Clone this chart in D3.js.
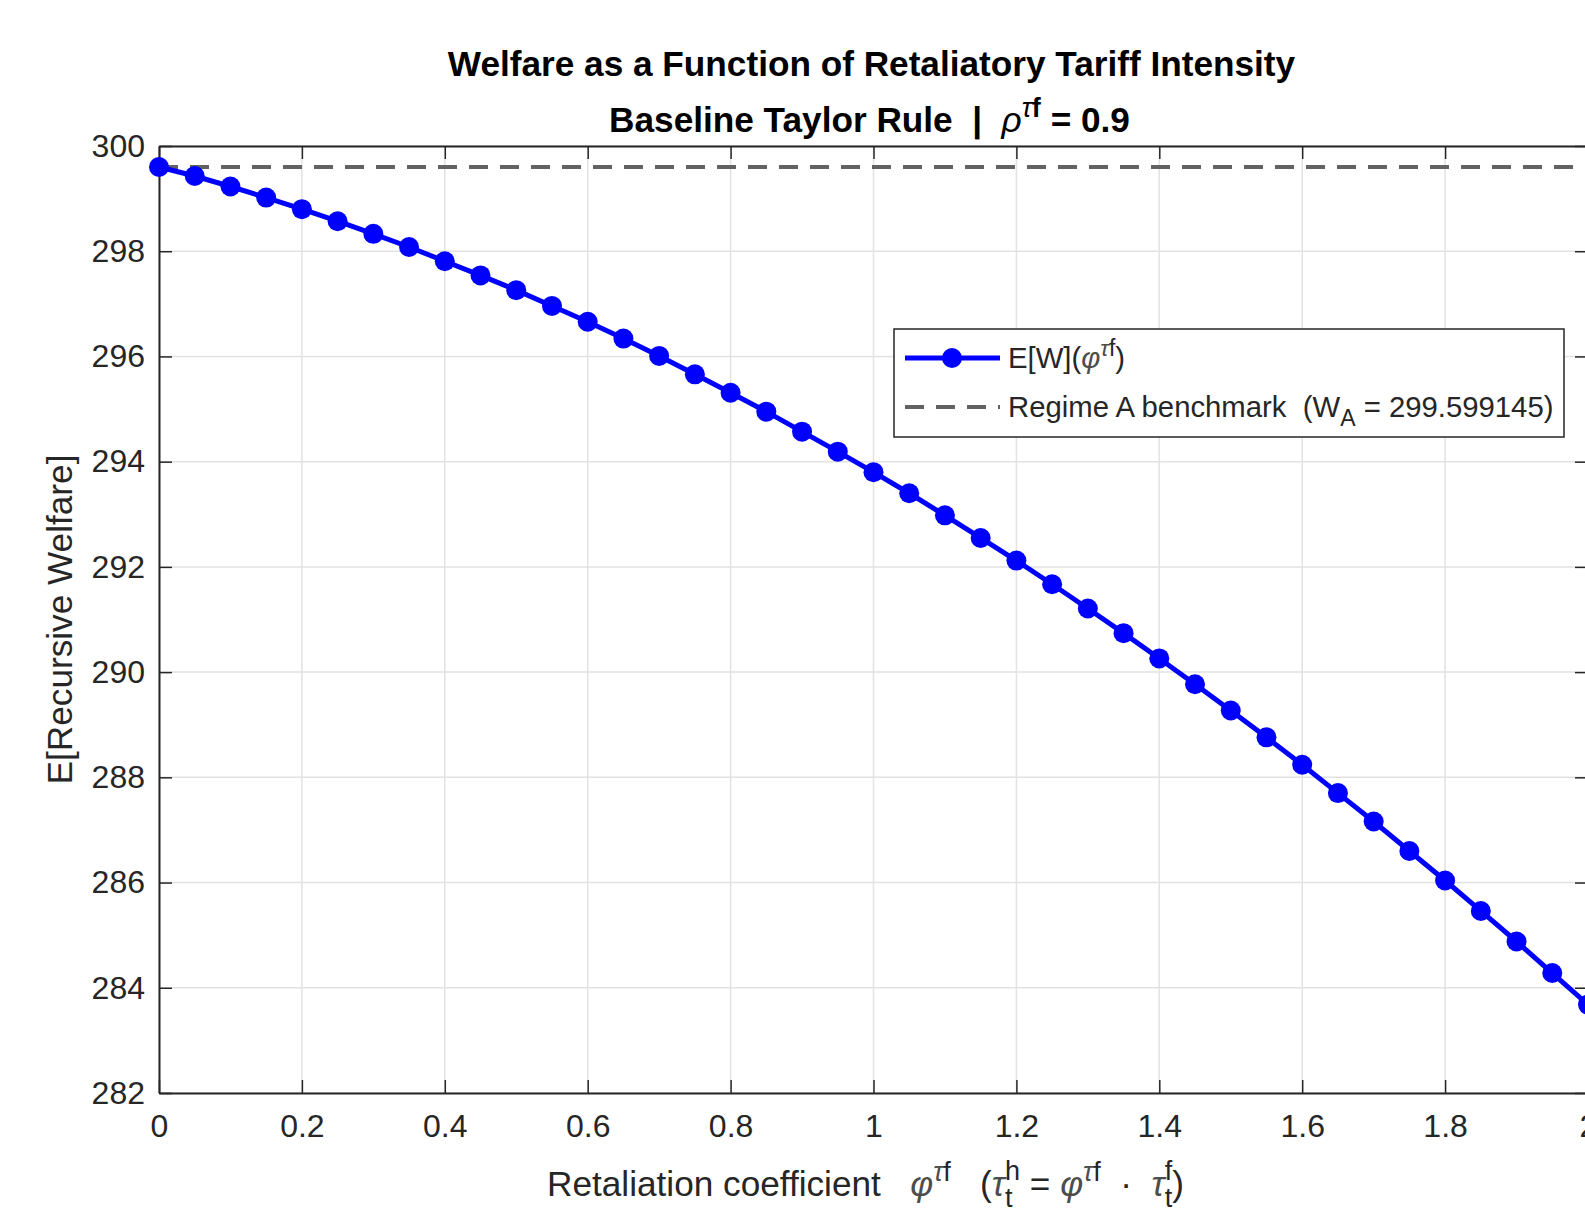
<!DOCTYPE html>
<html>
<head>
<meta charset="utf-8">
<script src="https://cdn.jsdelivr.net/npm/d3@7"></script>
<style>
body { margin: 0; background: #fff; }
svg { display: block; font-family: "Liberation Sans", Arial, sans-serif; }
text { white-space: pre; }
</style>
</head>
<body>
<div id="chart"></div>
<script>
// data
var phi = [0, 0.05, 0.1, 0.15, 0.2, 0.25, 0.3, 0.35, 0.4, 0.45, 0.5, 0.55, 0.6, 0.65, 0.7,
           0.75, 0.8, 0.85, 0.9, 0.95, 1.0, 1.05, 1.1, 1.15, 1.2, 1.25, 1.3, 1.35, 1.4, 1.45,
           1.5, 1.55, 1.6, 1.65, 1.7, 1.75, 1.8, 1.85, 1.9, 1.95, 2.0];
var welfare = [299.60, 299.43, 299.23, 299.02, 298.80, 298.57, 298.33, 298.08, 297.81, 297.54,
               297.26, 296.96, 296.66, 296.34, 296.01, 295.66, 295.31, 294.95, 294.57, 294.19,
               293.80, 293.40, 292.98, 292.55, 292.12, 291.67, 291.21, 290.74, 290.26, 289.77,
               289.27, 288.76, 288.24, 287.70, 287.16, 286.60, 286.04, 285.46, 284.88, 284.28, 283.68];
var benchmark = 299.599145;
var xTicks = [0, 0.2, 0.4, 0.6, 0.8, 1, 1.2, 1.4, 1.6, 1.8, 2];
var yTicks = [282, 284, 286, 288, 290, 292, 294, 296, 298, 300];

var W = 1585, H = 1209;
var left = 159, top_ = 146, right = 1588, bottom = 1093;
var w = right - left, h = bottom - top_;
var axisCol = "#262626", greek = "#4d4d4d";
var fsTick = 32, fsLab = 35.2, fsLeg = 29.3;

var svg = d3.select("#chart").append("svg")
  .attr("width", W)
  .attr("height", H);

var g = svg.append("g").attr("transform", "translate(" + left + "," + top_ + ")");

var xScale = d3.scaleLinear().domain([0, 2]).range([0, w]);
var yScale = d3.scaleLinear().domain([282, 300]).range([h, 0]);

// grid
g.append("g").selectAll("line").data(xTicks).enter().append("line")
  .attr("x1", function(d) { return xScale(d); })
  .attr("x2", function(d) { return xScale(d); })
  .attr("y1", 0).attr("y2", h)
  .attr("stroke", "#e2e2e2").attr("stroke-width", 1.5);
g.append("g").selectAll("line").data(yTicks).enter().append("line")
  .attr("y1", function(d) { return yScale(d); })
  .attr("y2", function(d) { return yScale(d); })
  .attr("x1", 0).attr("x2", w)
  .attr("stroke", "#e2e2e2").attr("stroke-width", 1.5);

function fmt(d) { return String(+d.toFixed(1)); }

function styleAxis(sel) {
  sel.select(".domain").attr("stroke", axisCol).attr("stroke-width", 2);
  sel.selectAll(".tick line").attr("stroke", axisCol).attr("stroke-width", 1.5);
  sel.selectAll(".tick text").attr("fill", axisCol).attr("font-size", fsTick)
    .attr("font-family", "Liberation Sans, Arial, sans-serif");
}

var xAxis = d3.axisBottom(xScale).tickValues(xTicks).tickFormat(fmt)
  .tickSizeInner(-13).tickSizeOuter(0).tickPadding(21);
var xAxisTop = d3.axisTop(xScale).tickValues(xTicks).tickFormat("")
  .tickSizeInner(-13).tickSizeOuter(0);
var yAxis = d3.axisLeft(yScale).tickValues(yTicks).tickFormat(d3.format("d"))
  .tickSizeInner(-13).tickSizeOuter(0).tickPadding(14);
var yAxisRight = d3.axisRight(yScale).tickValues(yTicks).tickFormat("")
  .tickSizeInner(-13).tickSizeOuter(0);

g.append("g").attr("transform", "translate(0," + h + ")").call(xAxis).call(styleAxis);
g.append("g").call(xAxisTop).call(styleAxis);
g.append("g").call(yAxis).call(styleAxis);
g.append("g").attr("transform", "translate(" + w + ",0)").call(yAxisRight).call(styleAxis);

// benchmark line
g.append("line")
  .attr("x1", xScale(0)).attr("x2", xScale(2))
  .attr("y1", yScale(benchmark)).attr("y2", yScale(benchmark))
  .attr("stroke", "#626262").attr("stroke-width", 4)
  .attr("stroke-dasharray", "19,12");

// welfare curve
var line = d3.line()
  .x(function(d, i) { return xScale(phi[i]); })
  .y(function(d) { return yScale(d); });

g.append("path").datum(welfare)
  .attr("d", line)
  .attr("fill", "none")
  .attr("stroke", "#0000ff")
  .attr("stroke-width", 5);

g.selectAll(".pt").data(welfare).enter().append("circle")
  .attr("class", "pt")
  .attr("cx", function(d, i) { return xScale(phi[i]); })
  .attr("cy", function(d) { return yScale(d); })
  .attr("r", 10)
  .attr("fill", "#0000ff");

// rich text helper
function rich(sel, parts) {
  parts.forEach(function(p) {
    var t = sel.append("tspan").text(p.t);
    if (p.dx) t.attr("dx", p.dx);
    if (p.dy) t.attr("dy", p.dy);
    if (p.size) t.attr("font-size", p.size);
    if (p.it) t.attr("font-style", "italic");
    if (p.wt) t.attr("font-weight", p.wt);
    if (p.fill) t.attr("fill", p.fill);
  });
}

// titles
svg.append("text")
  .attr("x", (left + right) / 2 - 2).attr("y", 76)
  .attr("text-anchor", "middle")
  .attr("font-size", fsLab).attr("font-weight", "bold").attr("fill", "#000")
  .text("Welfare as a Function of Retaliatory Tariff Intensity");

var sup = 27;
var t2 = svg.append("text")
  .attr("x", (left + right) / 2 - 4).attr("y", 132)
  .attr("text-anchor", "middle")
  .attr("font-size", fsLab).attr("font-weight", "bold").attr("fill", "#000");
rich(t2, [
  {t: "Baseline Taylor Rule  |  "},
  {t: "\u03c1", it: true, wt: "normal"},
  {t: "\u03c4", it: true, wt: "normal", size: sup, dy: -15},
  {t: "f", size: sup},
  {t: " = 0.9", dy: 15}
]);

// x label
var xl = svg.append("text")
  .attr("x", (left + right) / 2 - 8).attr("y", 1196)
  .attr("text-anchor", "middle")
  .attr("font-size", fsLab).attr("fill", axisCol);
rich(xl, [
  {t: "Retaliation coefficient   "},
  {t: "\u03c6", it: true, fill: greek},
  {t: "\u03c4", it: true, fill: greek, size: sup, dy: -15},
  {t: "f", size: sup},
  {t: "   (", dy: 15},
  {t: "\u03c4", it: true, fill: greek},
  {t: "h", size: sup, dy: -16},
  {t: "t", size: sup, dx: -15, dy: 27},
  {t: " = ", dx: 7.5, dy: -11},
  {t: "\u03c6", it: true, fill: greek},
  {t: "\u03c4", it: true, fill: greek, size: sup, dy: -15},
  {t: "f", size: sup},
  {t: "  \u00b7  ", dy: 15},
  {t: "\u03c4", it: true, fill: greek},
  {t: "f", size: sup, dy: -16},
  {t: "t", size: sup, dx: -7.5, dy: 27},
  {t: ")", dy: -11}
]);

// y label
svg.append("text")
  .attr("transform", "translate(72," + ((top_ + bottom) / 2) + ") rotate(-90)")
  .attr("text-anchor", "middle")
  .attr("font-size", fsLab).attr("fill", axisCol)
  .text("E[Recursive Welfare]");

// legend
var lg = svg.append("g");
lg.append("rect")
  .attr("x", 894).attr("y", 329).attr("width", 670).attr("height", 108)
  .attr("fill", "#fff").attr("stroke", axisCol).attr("stroke-width", 1.5);

var ly1 = 358, ly2 = 407;
lg.append("line").attr("x1", 905).attr("x2", 1000).attr("y1", ly1).attr("y2", ly1)
  .attr("stroke", "#0000ff").attr("stroke-width", 5);
lg.append("circle").attr("cx", 952).attr("cy", ly1).attr("r", 10).attr("fill", "#0000ff");
lg.append("line").attr("x1", 905).attr("x2", 1000).attr("y1", ly2).attr("y2", ly2)
  .attr("stroke", "#626262").attr("stroke-width", 4).attr("stroke-dasharray", "19,12");

var lt1 = lg.append("text").attr("x", 1008).attr("y", ly1 + 10)
  .attr("font-size", fsLeg).attr("fill", axisCol);
rich(lt1, [
  {t: "E[W]("},
  {t: "\u03c6", it: true, fill: greek},
  {t: "\u03c4", it: true, fill: greek, size: 23, dy: -12},
  {t: "f", size: 23},
  {t: ")", dy: 12}
]);
var lt2 = lg.append("text").attr("x", 1008).attr("y", ly2 + 10)
  .attr("font-size", fsLeg).attr("fill", axisCol);
rich(lt2, [
  {t: "Regime A benchmark  (W"},
  {t: "A", size: 23, dy: 9},
  {t: " = 299.599145)", dy: -9}
]);
</script>
</body>
</html>
